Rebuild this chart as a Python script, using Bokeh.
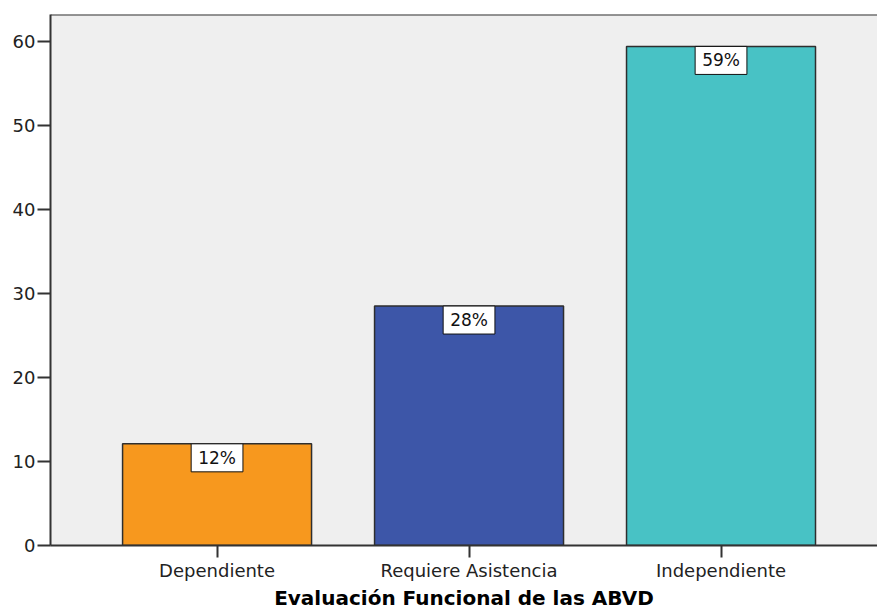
from bokeh.plotting import figure
from bokeh.models import Range1d, FixedTicker, Span, ColumnDataSource
from bokeh.core.properties import value
from bokeh.embed import file_html
from bokeh.resources import INLINE

# ---- data ----
categories = ["Dependiente", "Requiere Asistencia", "Independiente"]
values = [12.1, 28.5, 59.4]
bar_colors = ["#F7981E", "#3D56A8", "#48C2C5"]
y_ticks = [0, 10, 20, 30, 40, 50, 60]
pct_labels = ["12%", "28%", "59%"]
x_title = "Evaluación Funcional de las ABVD"

positions = list(range(len(categories)))
src = ColumnDataSource(dict(x=positions, top=values, color=bar_colors, label=pct_labels))

FONT = "DejaVu Sans"
Y_END = 63.2

p = figure(width=877, height=612, output_backend="svg", toolbar_location=None,
           x_range=Range1d(-0.661, 2.621), y_range=Range1d(0, Y_END),
           min_border_left=50, min_border_right=0, min_border_top=14,
           min_border_bottom=67)
p.background_fill_color = "#EFEFEF"
p.border_fill_color = "white"
p.outline_line_color = None
p.grid.visible = False

p.vbar(x="x", top="top", bottom=0, width=0.75, fill_color="color",
       line_color="#2E2E2E", line_width=1.5, source=src)

p.text(x="x", y="top", text="label", source=src, anchor="top_center",
       text_font=value(FONT), text_font_size="17px", text_color="#111111",
       background_fill_color="white", border_line_color="#111111",
       border_line_width=1, padding=dict(left=7, right=7, top=4, bottom=4))

p.add_layout(Span(location=Y_END, dimension="width", line_color="#333333",
                  line_width=2))

# y axis
ya = p.yaxis[0]
ya.ticker = FixedTicker(ticks=y_ticks)
ya.major_tick_out = 13
ya.major_tick_in = 0
ya.minor_tick_line_color = None
ya.major_tick_line_width = 2
ya.major_tick_line_color = "#333333"
ya.axis_line_width = 2
ya.axis_line_color = "#333333"
ya.major_label_standoff = 2
ya.major_label_text_font = FONT
ya.major_label_text_font_size = "18px"
ya.major_label_text_color = "#222222"

# x axis
xa = p.xaxis[0]
xa.ticker = FixedTicker(ticks=positions)
xa.major_label_overrides = {i: c for i, c in enumerate(categories)}
xa.major_tick_out = 12
xa.major_tick_in = 0
xa.minor_tick_line_color = None
xa.major_tick_line_width = 2
xa.major_tick_line_color = "#333333"
xa.axis_line_width = 2
xa.axis_line_color = "#333333"
xa.major_label_standoff = 2
xa.major_label_text_font = FONT
xa.major_label_text_font_size = "18px"
xa.major_label_text_color = "#222222"
xa.axis_label = x_title
xa.axis_label_text_font = FONT
xa.axis_label_text_font_style = "bold"
xa.axis_label_text_font_size = "20px"
xa.axis_label_text_color = "#000000"
xa.axis_label_standoff = 2

open("out.html", "w").write(file_html(p, INLINE))
